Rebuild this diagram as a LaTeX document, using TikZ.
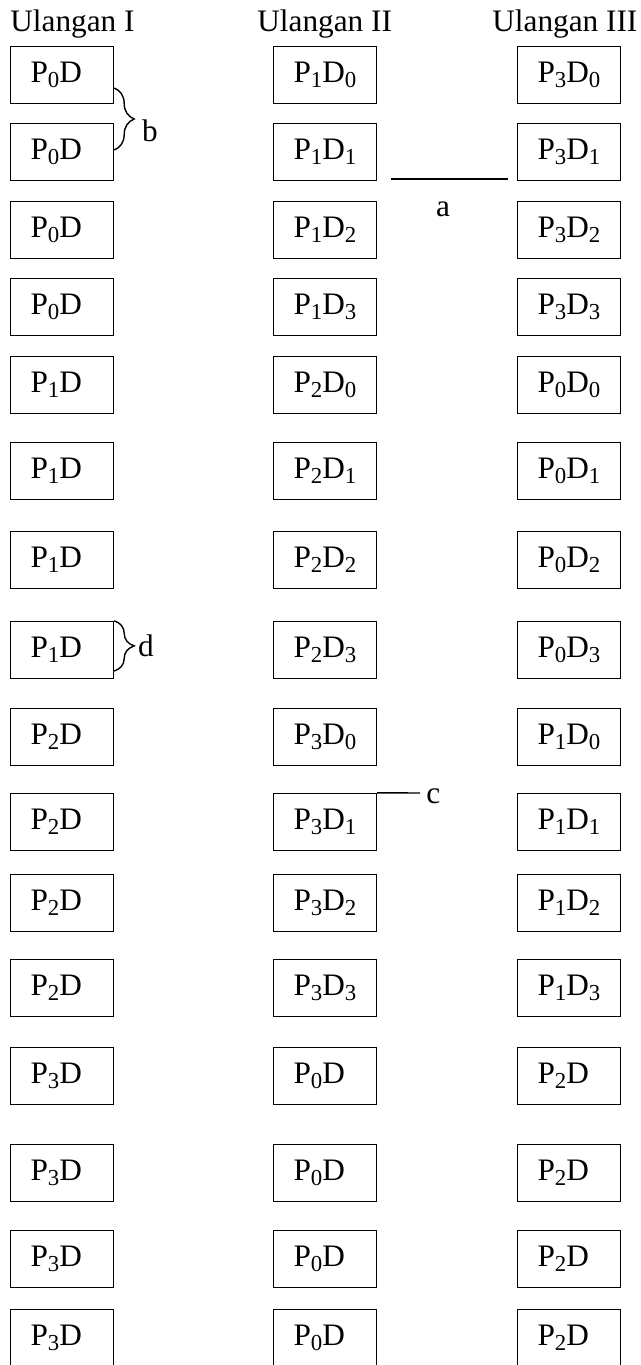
\documentclass[tikz,border=0pt]{standalone}
\usepackage{fontspec}
\setmainfont{Liberation Serif}
\usetikzlibrary{decorations.pathreplacing}

\newcommand{\sublow}[1]{\raisebox{-0.17em}{\fontsize{13}{13}\selectfont #1}}
\newcommand{\pd}[2]{P\sublow{#1}D\sublow{#2}}

\begin{document}
\begin{tikzpicture}[x=0.02cm, y=-0.02cm,
  font=\fontsize{17.8}{21}\selectfont,
  kotak/.style={draw, line width=0.8pt, minimum width=2.06cm, minimum height=1.14cm, inner sep=0pt},
  kurung/.style={decorate, decoration={brace, amplitude=0.4cm}, line width=0.8pt},
  huruf/.style={inner sep=0pt}]

\useasboundingbox (0,0) rectangle (641,1365);

% Headers
\node[huruf, anchor=base west] (h1) at (10,32) {Ulangan I};
\node[huruf, anchor=base west] (h2) at (257,32) {Ulangan II};
\node[huruf, anchor=base west] (h3) at (492,32) {Ulangan III};

% Boxes, one row at a time
\foreach \y [count=\r] in {75,152,230,307,385,471,560,650,737,822,903,988,1076,1173,1259,1338} {
  \pgfmathtruncatemacro{\grp}{(\r-1)/4}
  \pgfmathtruncatemacro{\dn}{mod(\r-1,4)}
  \pgfmathtruncatemacro{\pb}{mod(\grp+1,4)}
  \pgfmathtruncatemacro{\pc}{mod(\grp+3,4)}
  \ifnum\grp=3 \def\sub{\phantom{0}}\else \let\sub\dn\fi
  \node[kotak] (u1-\r) at (62,\y) {\pd{\grp}{\phantom{0}}};
  \node[kotak] (u2-\r) at (325,\y) {\pd{\pb}{\sub}};
  \node[kotak] (u3-\r) at (569,\y) {\pd{\pc}{\sub}};
}

% Brace b and d
\draw[kurung] (u1-1.east |- 0,88) -- (u1-2.east |- 0,150);
\node[huruf] (b) at (150,131) {b};
\draw[kurung] (u1-8.north east) -- (u1-8.east |- 0,671);
\node[huruf] (d) at (146,646) {d};

% Line a
\coordinate (a1) at (391,179);
\coordinate (a2) at (508,179);
\draw[line width=0.8pt] (a1) -- (a2);
\node[huruf] (a) at (443,209) {a};

% Line c
\coordinate (c1) at (420,793);
\draw[line width=0.8pt] (u2-10.north east) -- (c1);
\node[huruf, anchor=west] (c) at (426,796) {c};

\end{tikzpicture}
\end{document}
